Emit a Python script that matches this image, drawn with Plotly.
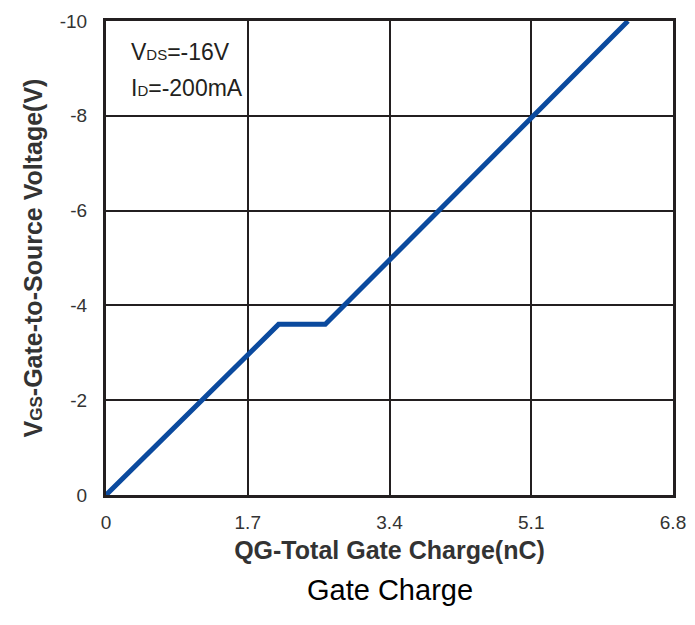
import plotly.graph_objects as go

# Gate charge curve (QG in nC, VGS in V)
qg = [0.0, 2.07, 2.63, 6.26]
vgs = [0.0, -3.6, -3.6, -10.0]

x_ticks = [0, 1.7, 3.4, 5.1, 6.8]
x_labels = ["0", "1.7", "3.4", "5.1", "6.8"]
y_ticks = [0, -2, -4, -6, -8, -10]
y_labels = ["0", "-2", "-4", "-6", "-8", "-10"]

conditions = ["V<span style='font-size:15px'>DS</span>=-16V",
              "I<span style='font-size:15px'>D</span>=-200mA"]

GRID = "#231f20"
FONT = "Liberation Sans, Arial, sans-serif"

fig = go.Figure()
fig.add_trace(go.Scatter(
    x=qg, y=vgs,
    mode="lines",
    line=dict(color="#0b4a9e", width=5),
    showlegend=False,
))

# test conditions, one annotation per line
for i, txt in enumerate(conditions):
    fig.add_annotation(
        x=0.04, y=0.935 - i * 0.076, xref="paper", yref="paper",
        xanchor="left", yanchor="middle", align="left",
        showarrow=False, text=txt,
        font=dict(family=FONT, size=23, color="#231f20"),
    )

fig.add_annotation(
    x=0.5, y=-0.2, xref="paper", yref="paper",
    xanchor="center", yanchor="middle", showarrow=False,
    text="Gate Charge",
    font=dict(family=FONT, size=29, color="#000000"),
)

fig.update_xaxes(
    range=[0, 6.8], tickvals=x_ticks, ticktext=x_labels,
    showgrid=True, gridcolor=GRID, gridwidth=2,
    showline=True, linecolor=GRID, linewidth=3, mirror=True,
    zeroline=False, ticks="", ticklabelstandoff=8,
    tickfont=dict(family=FONT, size=19, color="#333333"),
    title=dict(text="<b>QG-Total Gate Charge(nC)</b>",
               font=dict(family=FONT, size=25, color="#333333"), standoff=10),
)
fig.update_yaxes(
    range=[0, -10], tickvals=y_ticks, ticktext=y_labels,
    showgrid=True, gridcolor=GRID, gridwidth=2,
    showline=True, linecolor=GRID, linewidth=3, mirror=True,
    zeroline=False, ticks="", ticklabelstandoff=12,
    tickfont=dict(family=FONT, size=19, color="#333333"),
    title=dict(text="<b>V<span style='font-size:17px'>GS</span>-Gate-to-Source Voltage(V)</b>",
               font=dict(family=FONT, size=25, color="#333333"), standoff=10),
)

fig.update_layout(
    width=679, height=606,
    margin=dict(l=98, r=14, t=13, b=119, autoexpand=False),
    paper_bgcolor="white",
    plot_bgcolor="white",
)

fig.write_html("out.html")
